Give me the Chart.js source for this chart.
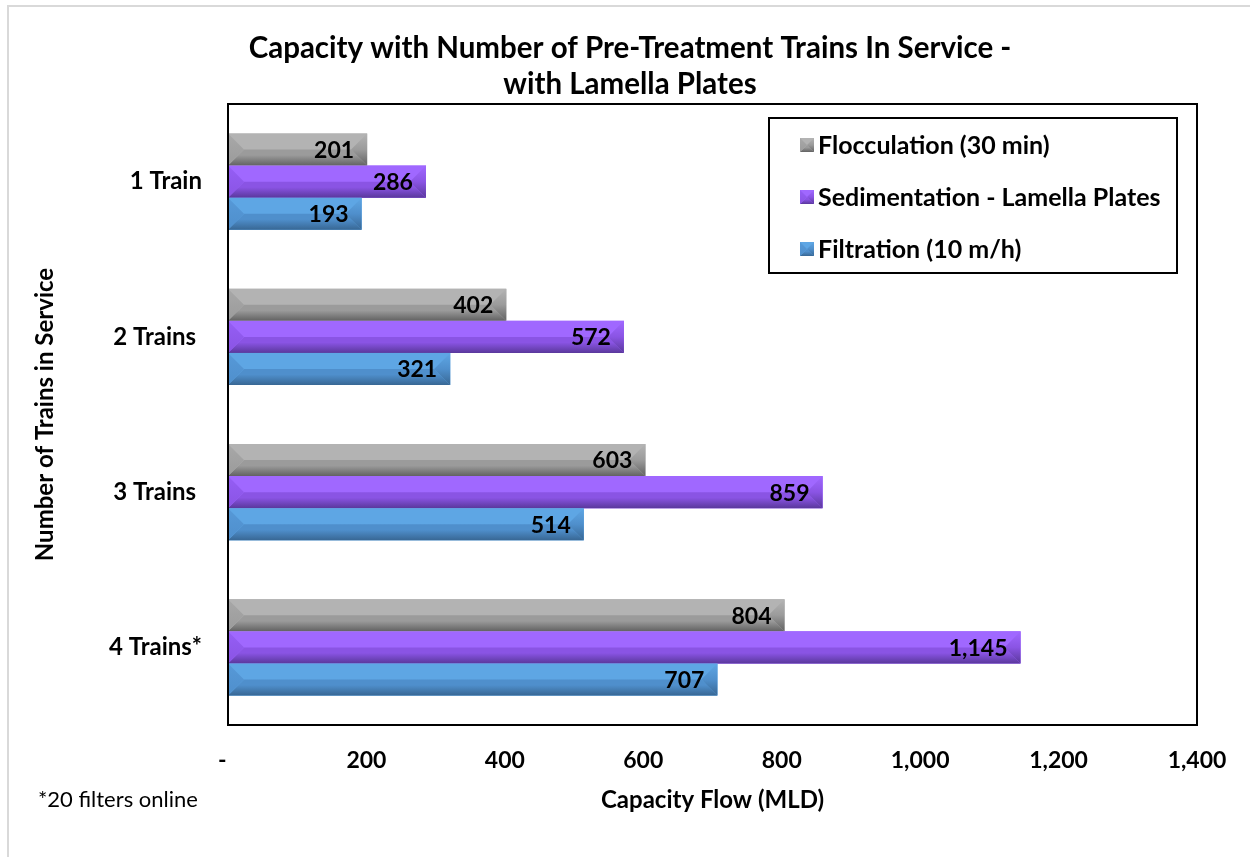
<!DOCTYPE html>
<html>
<head>
<meta charset="utf-8">
<script src="https://cdn.jsdelivr.net/npm/chart.js@4.4.1/dist/chart.umd.min.js"></script>
<style>
  html, body { margin: 0; padding: 0; background: #fff; }
  #wrap { width: 1250px; height: 857px; position: relative; }
</style>
</head>
<body>
<div id="wrap"><canvas id="capChart"></canvas></div>
<script>
// capacity per number of trains (MLD)
const trains = ['1 Train', '2 Trains ', '3 Trains ', '4 Trains*'];
const flocculation = [201, 402, 603, 804];
const sedimentation = [286, 572, 859, 1145];
const filtration = [193, 321, 514, 707];
const seriesNames = ['Flocculation (30 min)', 'Sedimentation - Lamella Plates', 'Filtration (10 m/h)'];
const xTicks = [0, 200, 400, 600, 800, 1000, 1200, 1400];
const titleLines = ['Capacity with Number of Pre-Treatment Trains In Service -', 'with Lamella Plates'];
const footnote = '*20 filters online';

const FONT = 'Lato, "Open Sans", sans-serif';

// bevel face colours per series
const shades = [
  {top: '#b3b3b3', side: '#a8a8a8', mid: '#9b9b9b', low: '#626262'},
  {top: '#a068ff', side: '#955ef5', mid: '#8a54e4', low: '#5a389c'},
  {top: '#5ea6e4', side: '#5699d8', mid: '#4f8fcc', low: '#386794'}
];

function poly(ctx, pts, fill) {
  ctx.beginPath();
  ctx.moveTo(pts[0][0], pts[0][1]);
  for (let i = 1; i < pts.length; i++) ctx.lineTo(pts[i][0], pts[i][1]);
  ctx.closePath();
  ctx.fillStyle = fill;
  ctx.fill();
}

// soft bevel: light top face, dark bottom face, wedge ends
function drawBevel(ctx, x0, x1, yT, yB, s) {
  if (x1 < x0) [x0, x1] = [x1, x0];
  const h = yB - yT, yM = yT + h / 2;
  const b = Math.min(h / 2, (x1 - x0) / 2);
  ctx.fillStyle = s.top;
  ctx.fillRect(x0, yT, x1 - x0, h);
  const g = ctx.createLinearGradient(0, yM, 0, yB);
  g.addColorStop(0, s.mid);
  g.addColorStop(0.35, s.mid);
  g.addColorStop(1, s.low);
  poly(ctx, [[x0, yB], [x0 + b, yM], [x1 - b, yM], [x1, yB]], g);
  const gl = ctx.createLinearGradient(0, yT, 0, yB);
  gl.addColorStop(0, s.side);
  gl.addColorStop(1, s.mid);
  poly(ctx, [[x0, yT], [x0 + b, yM], [x0, yB]], gl);
  const gr = ctx.createLinearGradient(0, yT, 0, yB);
  gr.addColorStop(0, s.top);
  gr.addColorStop(0.5, s.mid);
  gr.addColorStop(1, s.low);
  poly(ctx, [[x1, yT], [x1 - b, yM], [x1, yB]], gr);
}

const decor = {
  id: 'decor',
  afterDatasetsDraw(chart) {
    const ctx = chart.ctx;
    ctx.save();
    chart.data.datasets.forEach((ds, di) => {
      const meta = chart.getDatasetMeta(di);
      meta.data.forEach((el, i) => {
        const p = el.getProps(['x', 'y', 'base', 'height'], true);
        drawBevel(ctx, p.base, p.x, p.y - p.height / 2, p.y + p.height / 2, shades[di]);
        ctx.font = 'bold 23px ' + FONT;
        ctx.fillStyle = '#000';
        ctx.textAlign = 'right';
        ctx.textBaseline = 'middle';
        ctx.fillText(ds.data[i].toLocaleString('en-US'), p.x - 13, p.y + 1);
      });
    });
    ctx.restore();
  },
  afterDraw(chart) {
    const ctx = chart.ctx;
    const a = chart.chartArea;
    ctx.save();
    // outer chart border
    ctx.strokeStyle = '#d9d9d9';
    ctx.lineWidth = 2;
    ctx.beginPath();
    ctx.moveTo(8, 857);
    ctx.lineTo(8, 6);
    ctx.lineTo(1250, 6);
    ctx.stroke();
    // plot frame
    ctx.strokeStyle = '#000';
    ctx.lineWidth = 2;
    ctx.strokeRect(a.left, a.top, a.right - a.left, a.bottom - a.top);
    // title
    ctx.fillStyle = '#000';
    ctx.textAlign = 'center';
    ctx.textBaseline = 'middle';
    ctx.font = 'bold 29.5px ' + FONT;
    ctx.fillText(titleLines[0], 630, 48);
    ctx.fillText(titleLines[1], 630, 84);
    // legend
    ctx.lineWidth = 2;
    ctx.strokeRect(769, 118, 408, 155);
    ctx.font = 'bold 25px ' + FONT;
    ctx.textAlign = 'left';
    seriesNames.forEach((name, i) => {
      const cy = 145 + i * 52;
      drawBevel(ctx, 800, 814, cy - 7, cy + 7, shades[i]);
      ctx.fillStyle = '#000';
      ctx.fillText(name, 818, cy + 1);
    });
    // footnote
    ctx.font = '22px ' + FONT;
    ctx.fillText(footnote, 38, 800);
    ctx.restore();
  }
};

const tickFont = {family: FONT, size: 23, weight: 'bold'};

new Chart(document.getElementById('capChart'), {
  type: 'bar',
  data: {
    labels: trains,
    datasets: [
      {label: seriesNames[0], data: flocculation, backgroundColor: shades[0].top},
      {label: seriesNames[1], data: sedimentation, backgroundColor: shades[1].top},
      {label: seriesNames[2], data: filtration, backgroundColor: shades[2].top}
    ]
  },
  options: {
    indexAxis: 'y',
    responsive: true,
    maintainAspectRatio: false,
    animation: false,
    categoryPercentage: 0.62,
    barPercentage: 1,
    layout: {padding: {left: 19, top: 104, right: 53, bottom: 0}},
    plugins: {legend: {display: false}, tooltip: {enabled: false}, title: {display: false}},
    scales: {
      x: {
        min: 0,
        max: 1400,
        afterBuildTicks: s => { s.ticks = xTicks.map(v => ({value: v})); },
        afterFit: s => { s.height = 132; },
        grid: {display: false, drawTicks: false},
        border: {display: false},
        ticks: {
          padding: 22,
          color: '#000',
          font: tickFont,
          maxRotation: 0,
          callback: v => v === 0 ? '-  ' : v.toLocaleString('en-US')
        },
        title: {
          display: true,
          text: 'Capacity Flow (MLD)',
          color: '#000',
          font: {family: FONT, size: 24, weight: 'bold', lineHeight: 1.2},
          padding: {top: 0, bottom: 42}
        }
      },
      y: {
        afterFit: s => { s.width = 209; },
        grid: {display: false, drawTicks: false},
        border: {display: false},
        ticks: {padding: 26, color: '#000', font: {family: FONT, size: 24, weight: 'bold'}},
        title: {
          display: true,
          text: 'Number of Trains in Service',
          color: '#000',
          font: {family: FONT, size: 24, weight: 'bold', lineHeight: 1.2},
          padding: {top: 12, bottom: 0}
        }
      }
    }
  },
  plugins: [decor]
});
</script>
</body>
</html>
